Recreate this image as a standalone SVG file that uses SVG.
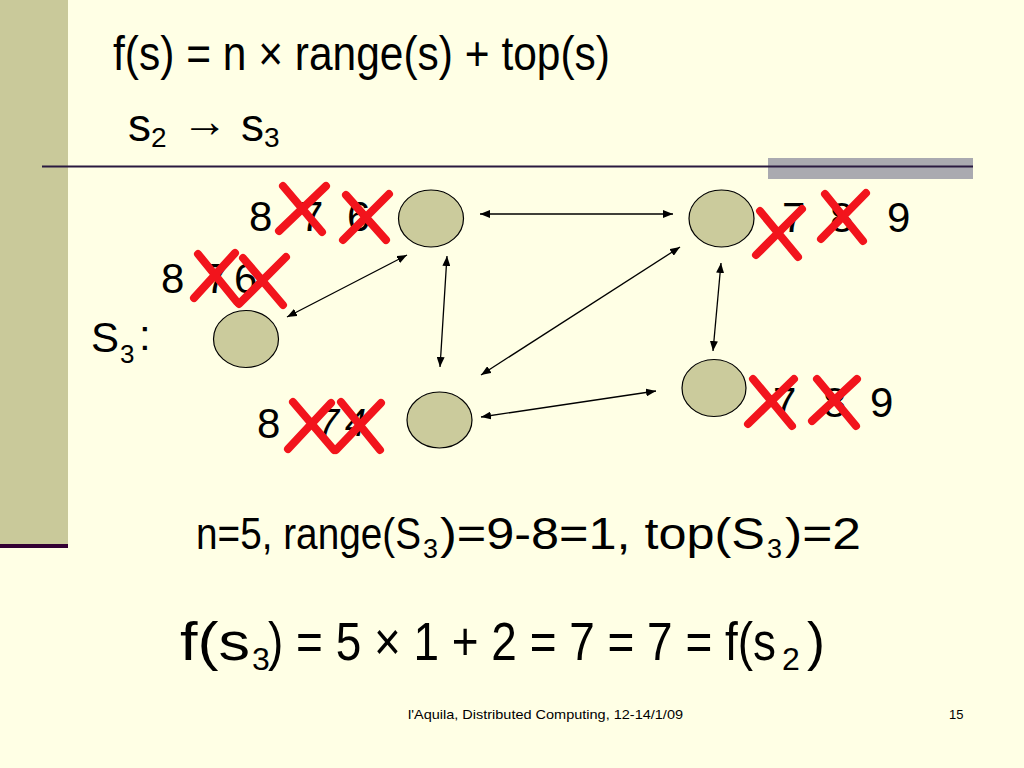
<svg xmlns="http://www.w3.org/2000/svg" width="1024" height="768" viewBox="0 0 1024 768">
<defs>
<style>
.t{font-family:"Liberation Sans",Arial,sans-serif;fill:#000}
.node{fill:#CBCB9C;stroke:#000;stroke-width:1.2}
.conn{stroke:#000;stroke-width:1.3;fill:none;marker-start:url(#ah);marker-end:url(#ah)}
.x{stroke:#F2141C;stroke-width:8;stroke-linecap:round;fill:none}
.lbl{font-family:"Liberation Sans",Arial,sans-serif;font-size:42px;fill:#000}
</style>
<marker id="ah" viewBox="0 0 10 8" refX="10" refY="4" markerWidth="10" markerHeight="8" markerUnits="userSpaceOnUse" orient="auto-start-reverse">
<path d="M0,0 L10,4 L0,8 Z" fill="#000"/>
</marker>
</defs>
<rect x="0" y="0" width="1024" height="768" fill="#FFFFE5"/>
<rect x="0" y="0" width="68" height="545" fill="#C9C99A"/>
<rect x="0" y="544" width="68" height="4" fill="#330033"/>
<rect x="768" y="158" width="205" height="21" fill="#AAAAB0"/>
<line x1="42" y1="166.5" x2="973" y2="166.5" stroke="#2A1A40" stroke-width="2"/>

<g id="title">
<text class="t" x="113" y="70" font-size="48" textLength="497" lengthAdjust="spacingAndGlyphs">f(s) = n × range(s) + top(s)</text>
<text class="t" font-size="46"><tspan x="128" y="141">s</tspan><tspan x="151" y="147" font-size="28">2</tspan><tspan x="182" y="137" font-size="46" font-family="Liberation Serif,serif">→</tspan><tspan x="241" y="141">s</tspan><tspan x="264" y="147" font-size="28">3</tspan></text>
</g>

<g id="s3label">
<text class="t" font-size="42"><tspan x="91" y="352">S</tspan><tspan x="120" y="363" font-size="26">3</tspan><tspan x="139" y="350">:</tspan></text>
</g>

<g id="connectors">
<line class="conn" x1="480" y1="214" x2="673" y2="214"/>
<line class="conn" x1="447" y1="256" x2="440" y2="367"/>
<line class="conn" x1="680" y1="247" x2="481" y2="375"/>
<line class="conn" x1="721" y1="263" x2="713" y2="351"/>
<line class="conn" x1="481" y1="417" x2="656" y2="391"/>
<line class="conn" x1="407" y1="255" x2="287" y2="317"/>
</g>

<g id="nodeA">
<ellipse class="node" cx="431" cy="218.5" rx="32.5" ry="28.5"/>
<text class="lbl" x="249 300 347" y="231">876</text>
<path class="x" d="M283,186 L322,232 M279,231 L326,186"/>
<path class="x" d="M346,195 L386,240 M343,240 L389,194"/>
</g>

<g id="nodeB">
<ellipse class="node" cx="246" cy="339" rx="32.5" ry="28.5"/>
<text class="lbl" x="161 205 234" y="293">876</text>
<path class="x" d="M198,254 L237,302 M194,298 L235,253"/>
<path class="x" d="M243,258 L283,305 M239,304 L286,257"/>
</g>

<g id="nodeC">
<ellipse class="node" cx="721.5" cy="218.5" rx="32.5" ry="28.5"/>
<text class="lbl" x="782 830 887" y="232">789</text>
<path class="x" d="M760,211 L798,257 M756,255 L802,209"/>
<path class="x" d="M825,194 L863,241 M821,239 L866,193"/>
</g>

<g id="nodeD">
<ellipse class="node" cx="714" cy="388" rx="32" ry="28.5"/>
<text class="lbl" x="773 823 870" y="417">789</text>
<path class="x" d="M753,379 L792,426 M748,424 L794,379"/>
<path class="x" d="M817,379 L856,426 M812,421 L857,379"/>
</g>

<g id="nodeE">
<ellipse class="node" cx="439.5" cy="420" rx="32.5" ry="28"/>
<text class="lbl"><tspan x="257" y="438">8</tspan><tspan x="318" y="436" font-size="38" font-style="italic">7</tspan><tspan x="345" y="436" font-size="38" font-style="italic">4</tspan></text>
<path class="x" d="M293,402 L334,450 M288,449 L331,403"/>
<path class="x" d="M341,402 L380,450 M336,450 L381,403"/>
</g>

<g id="calc">
<text class="t" font-size="44"><tspan x="196" y="549" textLength="225" lengthAdjust="spacingAndGlyphs">n=5, range(S</tspan><tspan x="423" y="558" font-size="27">3</tspan><tspan x="440" y="549" textLength="325" lengthAdjust="spacingAndGlyphs">)=9-8=1, top(S</tspan><tspan x="767" y="558" font-size="27">3</tspan><tspan x="785" y="549" textLength="76" lengthAdjust="spacingAndGlyphs">)=2</tspan></text>
</g>

<g id="result">
<text class="t" font-size="54"><tspan x="180" y="660" textLength="70" lengthAdjust="spacingAndGlyphs">f(s</tspan><tspan x="252" y="670" font-size="32">3</tspan><tspan x="268" y="660" textLength="508" lengthAdjust="spacingAndGlyphs">) = 5 × 1 + 2 = 7 = 7 = f(s</tspan><tspan x="782" y="670" font-size="32">2</tspan><tspan x="807" y="660">)</tspan></text>
</g>

<g id="footer">
<text class="t" x="408" y="719" font-size="13" textLength="275" lengthAdjust="spacingAndGlyphs">l'Aquila, Distributed Computing, 12-14/1/09</text>
<text class="t" x="949" y="719" font-size="13">15</text>
</g>
</svg>
